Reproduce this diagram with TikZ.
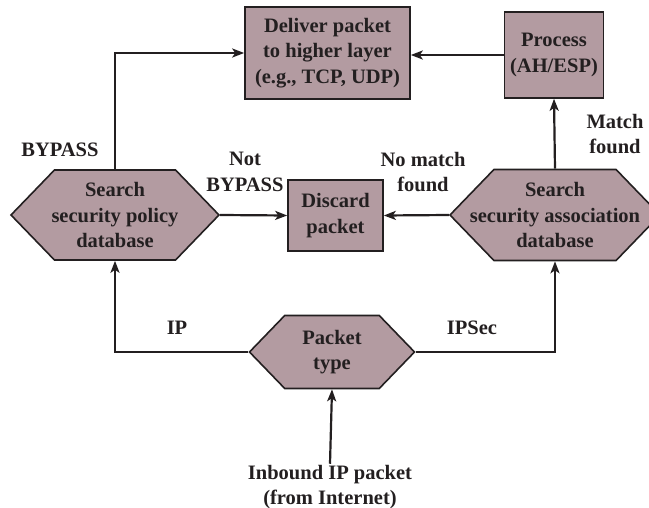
\documentclass[tikz,border=0pt]{standalone}
\usepackage{fontspec}
\setmainfont{Liberation Serif}
\usetikzlibrary{arrows.meta,shapes.symbols}
\definecolor{cBox}{HTML}{B39BA1}
\definecolor{cInk}{HTML}{231F20}
\newcommand\diafont{\fontsize{20.5}{25.5}\selectfont\bfseries}
\tikzset{
  box/.style={draw=cInk,line width=1.6pt,fill=cBox,align=center,inner sep=0pt,font=\diafont,text=cInk},
  hexa/.style={signal,signal to=west and east,signal pointer angle=92,draw=cInk,line width=1.6pt,
    fill=cBox,align=center,inner sep=0pt,inner xsep=-40pt,font=\diafont,text=cInk},
  lbl/.style={align=center,font=\diafont,text=cInk,inner sep=1pt},
  flow/.style={-{Stealth[length=12pt,width=9pt,inset=3pt]},line width=2.2pt,cInk},
}

\begin{document}
\begin{tikzpicture}[x=1pt,y=-1pt]
  \useasboundingbox (0,0) rectangle (649,508);
  % boxes along the top
  \node[box,minimum width=165pt,minimum height=92pt] (deliver) at (327.5,53) {Deliver packet\\to higher layer\\(e.g., TCP, UDP)};
  \node[box,minimum width=99pt,minimum height=86pt] (process) at (554,55) {Process\\(AH/ESP)};
  % middle row
  \node[hexa,minimum width=208pt,minimum height=90pt] (spd) at (115,215) {Search\\security policy\\database};
  \node[box,minimum width=95pt,minimum height=71pt] (discard) at (335.5,215.5) {Discard\\packet};
  \node[hexa,minimum width=210pt,minimum height=91pt] (sad) at (555,215) {Search\\security association\\database};
  % entry
  \node[hexa,minimum width=165pt,minimum height=73pt] (ptype) at (332,352) {Packet\\type};
  \node[lbl] (inbound) at (330,487) {Inbound IP packet\\(from Internet)};
  % connectors
  \draw[flow] (inbound.north) -- (ptype.south);
  \draw[flow] (ptype.west) -| (spd.south);
  \draw[flow] (ptype.east) -| (sad.south);
  \draw[flow] (spd.north) |- (deliver.west);
  \draw[flow] (spd.east) -- (discard.west);
  \draw[flow] (sad.west) -- (discard.east);
  \draw[flow] (sad.north) -- (process.south);
  \draw[flow] (process.west) -- (process.west -| deliver.east);
  % labels
  \node[lbl] (bypass) at (60,150) {BYPASS};
  \node[lbl] (notbypass) at (245,172) {Not\\BYPASS};
  \node[lbl] (nomatch) at (423,172) {No match\\found};
  \node[lbl] (matchfound) at (615,134) {Match\\found};
  \node[lbl] (ip) at (177,328) {IP};
  \node[lbl] (ipsec) at (472,328) {IPSec};
\end{tikzpicture}
\end{document}
